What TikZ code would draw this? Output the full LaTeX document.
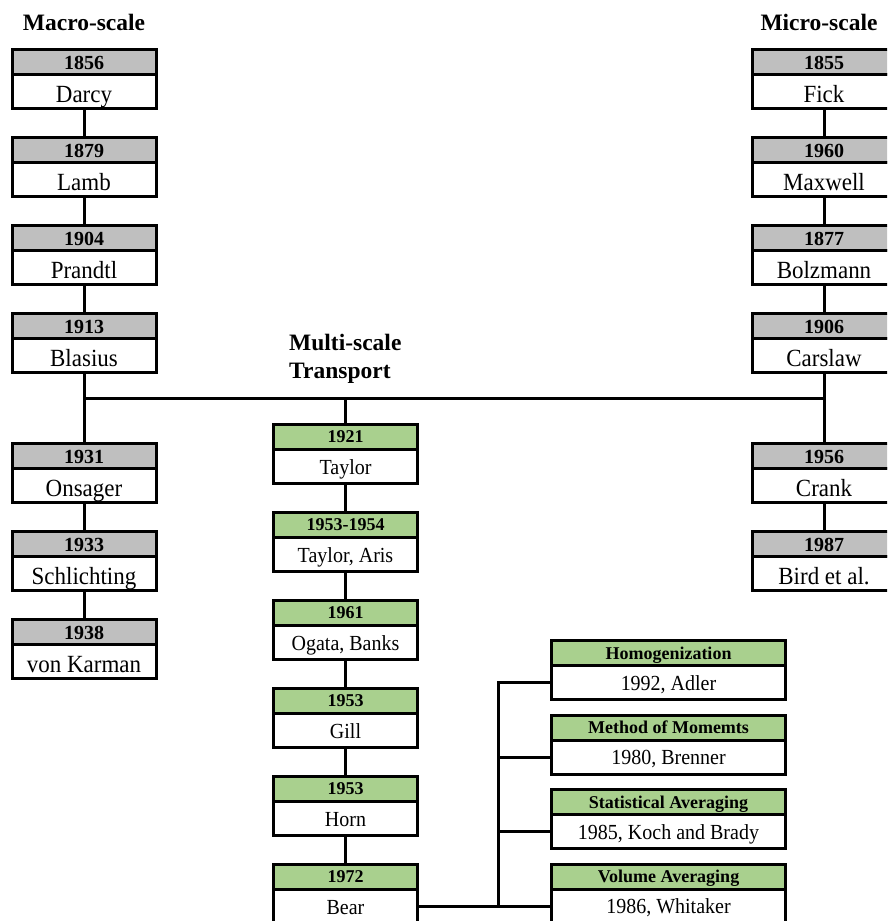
\documentclass[tikz,border=0pt]{standalone}
\usepackage{fontspec}
\setmainfont{Liberation Serif}
\newfontfamily\tallserif[FakeStretch=0.93]{Liberation Serif}
\definecolor{customgray}{RGB}{191, 191, 191}
\definecolor{myLightGreen}{RGB}{169, 208, 142}
\usetikzlibrary{positioning}

\begin{document}
\begin{tikzpicture}[x=1pt, y=-1pt, node distance=29pt,
    boxbase/.style={rectangle, draw=black, line width=3pt, outer sep=0pt, inner sep=0pt, align=center, text depth=0pt},
    grayhead/.style={boxbase, fill=customgray, minimum width=144pt, minimum height=25pt, text height=14.5pt, font=\fontsize{20}{24}\selectfont\bfseries},
    graybody/.style={boxbase, fill=white, minimum width=144pt, minimum height=34pt, text height=22.6pt, font=\tallserif\fontsize{24.7}{29}\selectfont},
    greenhead/.style={boxbase, fill=myLightGreen, minimum width=144pt, minimum height=25pt, text height=12.6pt, font=\fontsize{18}{22}\selectfont\bfseries},
    greenbody/.style={boxbase, fill=white, minimum width=144pt, minimum height=34pt, text height=16pt, font=\tallserif\fontsize{21.5}{26}\selectfont},
    methodhead/.style={greenhead, minimum width=234pt, text height=12pt},
    methodbody/.style={greenbody, minimum width=234pt, text height=15.5pt},
    title/.style={font=\fontsize{23.5}{28}\selectfont\bfseries, inner sep=0pt},
    link/.style={draw=black, line width=3pt}]
    \useasboundingbox (0,0) rectangle (887,921);
    \clip (0,0) rectangle (887,921);

    \node[title] (macro) at (84,22) {Macro-scale};
    \node[title] (micro) at (819,22) {Micro-scale};
    \node[title, align=left, anchor=west] (multi) at (289,358.5) {Multi-scale\\Transport};

    \node[grayhead, anchor=north] (darcyh) at (84,49.5) {1856};
    \node[graybody, below=0pt of darcyh] (darcy) {Darcy};
    \node[grayhead, below=of darcy] (lambh) {1879};
    \node[graybody, below=0pt of lambh] (lamb) {Lamb};
    \node[grayhead, below=of lamb] (prandtlh) {1904};
    \node[graybody, below=0pt of prandtlh] (prandtl) {Prandtl};
    \node[grayhead, below=of prandtl] (blasiush) {1913};
    \node[graybody, below=0pt of blasiush] (blasius) {Blasius};
    \node[grayhead, below=71pt of blasius] (onsagerh) {1931};
    \node[graybody, below=0pt of onsagerh] (onsager) {Onsager};
    \node[grayhead, below=of onsager] (schlichtingh) {1933};
    \node[graybody, below=0pt of schlichtingh] (schlichting) {Schlichting};
    \node[grayhead, below=of schlichting] (karmanh) {1938};
    \node[graybody, below=0pt of karmanh] (karman) {von Karman};

    \node[grayhead, anchor=north] (fickh) at (824,49.5) {1855};
    \node[graybody, below=0pt of fickh] (fick) {Fick};
    \node[grayhead, below=of fick] (maxwellh) {1960};
    \node[graybody, below=0pt of maxwellh] (maxwell) {Maxwell};
    \node[grayhead, below=of maxwell] (bolzmannh) {1877};
    \node[graybody, below=0pt of bolzmannh] (bolzmann) {Bolzmann};
    \node[grayhead, below=of bolzmann] (carslawh) {1906};
    \node[graybody, below=0pt of carslawh] (carslaw) {Carslaw};
    \node[grayhead, below=71pt of carslaw] (crankh) {1956};
    \node[graybody, below=0pt of crankh] (crank) {Crank};
    \node[grayhead, below=of crank] (birdh) {1987};
    \node[graybody, below=0pt of birdh] (bird) {Bird et al.};

    \node[greenhead, anchor=north] (taylorh) at (345.5,424) {1921};
    \node[greenbody, below=0pt of taylorh] (taylor) {Taylor};
    \node[greenhead, below=of taylor] (arish) {1953-1954};
    \node[greenbody, below=0pt of arish] (aris) {Taylor, Aris};
    \node[greenhead, below=of aris] (ogatah) {1961};
    \node[greenbody, below=0pt of ogatah] (ogata) {Ogata, Banks};
    \node[greenhead, below=of ogata] (gillh) {1953};
    \node[greenbody, below=0pt of gillh] (gill) {Gill};
    \node[greenhead, below=of gill] (hornh) {1953};
    \node[greenbody, below=0pt of hornh] (horn) {Horn};
    \node[greenhead, below=of horn] (bearh) {1972};
    \node[greenbody, below=0pt of bearh] (bear) {Bear};

    \node[methodhead, anchor=north] (adlerh) at (668.5,640.5) {Homogenization};
    \node[methodbody, below=0pt of adlerh] (adler) {1992, Adler};
    \node[methodhead, below=15.5pt of adler] (brennerh) {Method of Momemts};
    \node[methodbody, below=0pt of brennerh] (brenner) {1980, Brenner};
    \node[methodhead, below=15.5pt of brenner] (kochh) {Statistical Averaging};
    \node[methodbody, below=0pt of kochh] (koch) {1985, Koch and Brady};
    \node[methodhead, below=15.5pt of koch] (whitakerh) {Volume Averaging};
    \node[methodbody, below=0pt of whitakerh] (whitaker) {1986, Whitaker};

    \coordinate (spine) at (0,398);
    \coordinate (fork) at (498,0);

    \draw[link] (darcy) -- (lambh);
    \draw[link] (lamb) -- (prandtlh);
    \draw[link] (prandtl) -- (blasiush);
    \draw[link] (blasius) -- (onsagerh);
    \draw[link] (onsager) -- (schlichtingh);
    \draw[link] (schlichting) -- (karmanh);

    \draw[link] (fick) -- (maxwellh);
    \draw[link] (maxwell) -- (bolzmannh);
    \draw[link] (bolzmann) -- (carslawh);
    \draw[link] (carslaw) -- (crankh);
    \draw[link] (crank) -- (birdh);

    \draw[link] (blasius.south |- spine) -- (carslaw.south |- spine);
    \draw[link] (taylorh.north |- spine) -- (taylorh);
    \draw[link] (taylor) -- (arish);
    \draw[link] (aris) -- (ogatah);
    \draw[link] (ogata) -- (gillh);
    \draw[link] (gill) -- (hornh);
    \draw[link] (horn) -- (bearh);

    \draw[link] (bear.east) -- (whitaker.west);
    \draw[link] (adler.west) -| (fork |- whitaker.west);
    \draw[link] (fork |- brenner.west) -- (brenner.west);
    \draw[link] (fork |- koch.west) -- (koch.west);
\end{tikzpicture}
\end{document}
